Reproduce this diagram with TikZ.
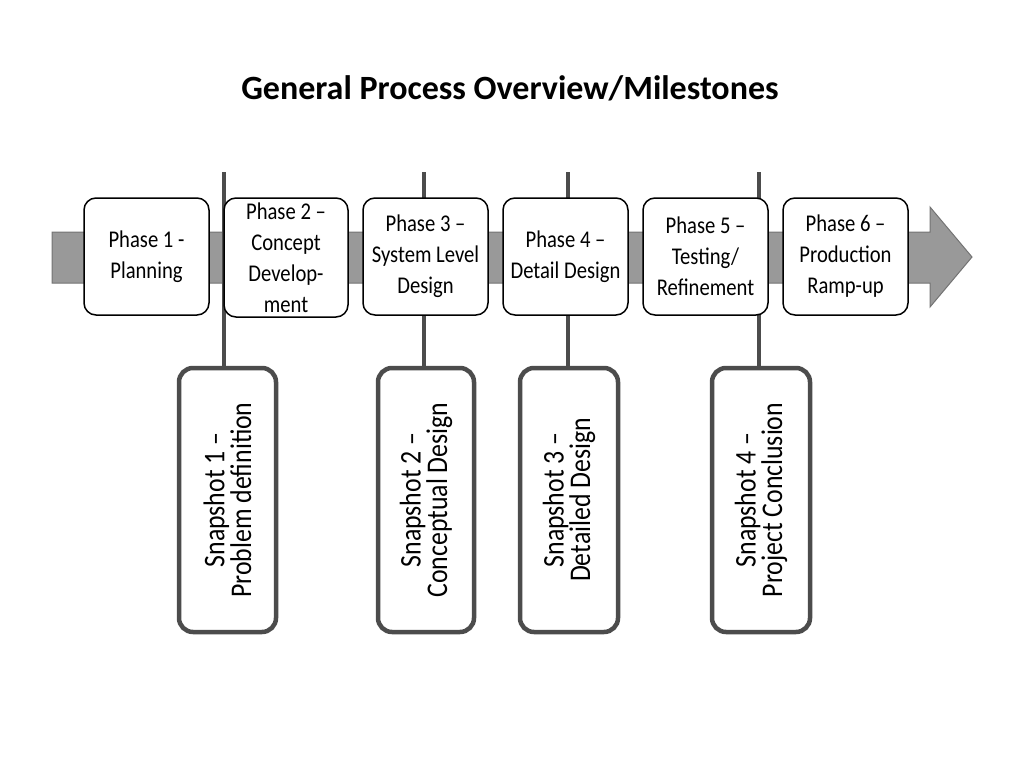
\documentclass[tikz,border=0pt]{standalone}
\usepackage{fontspec}
\setmainfont{Carlito}
\newfontfamily\cond{Carlito}[FakeStretch=0.86]
\begin{document}
\begin{tikzpicture}[x=1pt,y=-1pt,
  phase/.style={draw=black,line width=1.5pt,fill=white,rounded corners=12pt,align=center,font=\cond\fontsize{24}{31}\selectfont,inner sep=0pt},
  snap/.style={draw=black!70,line width=4.5pt,fill=white,rounded corners=14pt,inner sep=0pt},
  stxt/.style={rotate=90,align=center,font=\cond\fontsize{30}{25}\selectfont},
  vline/.style={draw=black!70,line width=4.5pt}]
\useasboundingbox (0,0) rectangle (1024,768);
\node (title) at (510,88) {\fontsize{34}{36}\selectfont\bfseries General Process Overview/Milestones};
% arrow band
\fill[black!40,draw=black!55,line width=1pt] (52,232) -- (930,232) -- (930,207) -- (972,257) -- (930,307) -- (930,283) -- (52,283) -- cycle;
% milestone lines
\coordinate (t1) at (224,172); \coordinate (b1) at (224,368);
\coordinate (t2) at (424,172); \coordinate (b2) at (424,368);
\coordinate (t3) at (568,172); \coordinate (b3) at (568,368);
\coordinate (t4) at (759,172); \coordinate (b4) at (759,368);
\foreach \i in {1,2,3,4} \draw[vline] (t\i) -- (b\i);
% phases
\node[phase,minimum width=125pt,minimum height=117pt] (p1) at (146.5,256.5) {Phase 1 -\\Planning};
\node[phase,minimum width=124pt,minimum height=119pt] (p2) at (286,257.5) {Phase 2 \textendash\\Concept\\Develop-\\ment};
\node[phase,minimum width=125pt,minimum height=117pt] (p3) at (425.5,256.5) {Phase 3 \textendash\\System Level\\Design};
\node[phase,minimum width=125pt,minimum height=117pt] (p4) at (565.5,256.5) {Phase 4 \textendash\\Detail Design};
\node[phase,minimum width=125pt,minimum height=117pt] (p5) at (705.5,256.5) {Phase 5 \textendash\\Testing/\\Refinement};
\node[phase,minimum width=125pt,minimum height=117pt] (p6) at (845.5,256.5) {Phase 6 \textendash\\Production\\Ramp-up};
% snapshots
\node[snap,minimum width=97pt,minimum height=264pt] (s1) at (227.5,500) {};
\node[stxt] at (s1) {Snapshot 1 \textendash\\Problem definition};
\node[snap,minimum width=96pt,minimum height=264pt] (s2) at (426,500) {};
\node[stxt] at (s2) {Snapshot 2 \textendash\\Conceptual Design};
\node[snap,minimum width=98pt,minimum height=264pt] (s3) at (569,500) {};
\node[stxt] at (s3) {Snapshot 3 \textendash\\Detailed Design};
\node[snap,minimum width=98pt,minimum height=264pt] (s4) at (761,500) {};
\node[stxt] at (s4) {Snapshot 4 \textendash\\Project Conclusion};
\end{tikzpicture}
\end{document}
